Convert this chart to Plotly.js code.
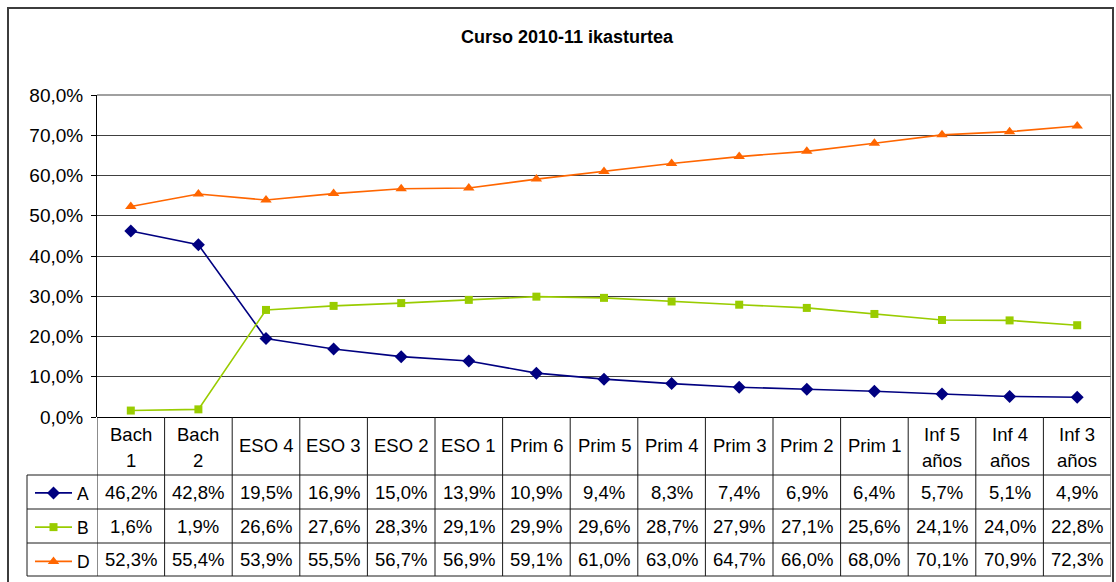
<!DOCTYPE html>
<html>
<head>
<meta charset="utf-8">
<script src="https://cdn.plot.ly/plotly-3.0.1.min.js"></script>
<style>html,body{margin:0;padding:0;background:#fff;}#chart{width:1116px;height:582px;}</style>
</head>
<body>
<div id="chart"></div>
<script>
// ---- data ----
const categories = ['Bach 1','Bach 2','ESO 4','ESO 3','ESO 2','ESO 1','Prim 6','Prim 5','Prim 4','Prim 3','Prim 2','Prim 1','Inf 5 años','Inf 4 años','Inf 3 años'];
const headerLabels = ['Bach<br>1','Bach<br>2','ESO 4','ESO 3','ESO 2','ESO 1','Prim 6','Prim 5','Prim 4','Prim 3','Prim 2','Prim 1','Inf 5<br>años','Inf 4<br>años','Inf 3<br>años'];
const seriesNames = ['A','B','D'];
const valuesA = [46.2,42.8,19.5,16.9,15.0,13.9,10.9,9.4,8.3,7.4,6.9,6.4,5.7,5.1,4.9];
const valuesB = [1.6,1.9,26.6,27.6,28.3,29.1,29.9,29.6,28.7,27.9,27.1,25.6,24.1,24.0,22.8];
const valuesD = [52.3,55.4,53.9,55.5,56.7,56.9,59.1,61.0,63.0,64.7,66.0,68.0,70.1,70.9,72.3];
const yTickValues = [0,10,20,30,40,50,60,70,80];
const titleText = 'Curso 2010-11 ikasturtea';

// ---- layout geometry (pixels) ----
const W = 1116, H = 582;
const L = 97, R = 1111, T = 95, B = 417;
const px = x => (x - L) / (R - L);
const py = y => (B - y) / (B - T);
const FONT = 'Liberation Sans, Arial, sans-serif';

const styles = [
  {color:'#000080', symbol:'diamond', size:10},
  {color:'#99CC00', symbol:'square', size:8},
  {color:'#FF6600', symbol:'triangle-up', size:10}
];
const allSeries = [valuesA, valuesB, valuesD];

const traces = allSeries.map((vals, k) => ({
  type:'scatter', mode:'lines+markers', name: seriesNames[k],
  x: categories, y: vals, legendgroup: 'g'+k,
  line:{color:styles[k].color, width:1.6},
  marker:{color:styles[k].color, symbol:styles[k].symbol, size:styles[k].size},
  hoverinfo:'skip'
}));

const fmt = v => v.toFixed(1).replace('.', ',') + '%';

const rowTops = [475, 509, 543];
const rowBottom = 576;
const lineCol = '#1a1a1a';

const shapes = [];
// outer chart border
shapes.push({type:'rect', xref:'paper', yref:'paper', x0:px(8), x1:px(1113), y0:py(8), y1:py(584),
  line:{color:'#3c3c3c', width:2}, fillcolor:'rgba(0,0,0,0)'});
// plot area top border
shapes.push({type:'line', xref:'paper', yref:'paper', x0:0, x1:1, y0:1, y1:1, line:{color:'#808080', width:1.5}});
// table horizontal lines
[475, 509, 543, 576].forEach(y => shapes.push({type:'line', xref:'paper', yref:'paper',
  x0:px(27), x1:1, y0:py(y), y1:py(y), line:{color:lineCol, width:1}}));
// table vertical lines (column boundaries)
for (let i = 0; i <= categories.length; i++) {
  const last = i === categories.length;
  shapes.push({type:'line', xref:'x', yref:'paper', x0:i-0.5, x1:i-0.5,
    y0: last ? 1 : 0, y1: py(rowBottom),
    line:{color: last ? '#808080' : lineCol, width: last ? 1.5 : 1}});
}
// legend column left line
shapes.push({type:'line', xref:'paper', yref:'paper', x0:px(27), x1:px(27), y0:py(475), y1:py(576),
  line:{color:lineCol, width:1}});

const annotations = [];
const cellFont = {family:FONT, size:18.5, color:'#000'};
categories.forEach((c, i) => {
  const parts = headerLabels[i].split('<br>');
  if (parts.length === 1) {
    annotations.push({xref:'x', yref:'paper', x:i, y:py(446), text:parts[0], showarrow:false,
      xanchor:'center', yanchor:'middle', font:cellFont});
  } else {
    [434, 460].forEach((yy, j) => annotations.push({xref:'x', yref:'paper', x:i, y:py(yy), text:parts[j],
      showarrow:false, xanchor:'center', yanchor:'middle', font:cellFont}));
  }
  allSeries.forEach((vals, k) => {
    const yc = (rowTops[k] + (k < 2 ? rowTops[k+1] : rowBottom)) / 2;
    annotations.push({xref:'x', yref:'paper', x:i, y:py(yc), text:fmt(vals[i]), showarrow:false,
      xanchor:'center', yanchor:'middle', font:cellFont});
  });
});

const layout = {
  width:W, height:H,
  margin:{l:L, r:W-R, t:T, b:H-B, pad:0, autoexpand:false},
  paper_bgcolor:'#fff', plot_bgcolor:'#fff',
  font:{family:FONT, color:'#000'},
  title:{text:'<b>'+titleText+'</b>', font:{family:FONT, size:18, color:'#000'},
    xref:'container', yref:'container', x:567/W, y:1-37/H, xanchor:'center', yanchor:'middle'},
  xaxis:{type:'category', range:[-0.5, categories.length-0.5], showticklabels:false, ticks:'',
    showgrid:false, zeroline:false, showline:false, fixedrange:true},
  yaxis:{range:[0,80], tickmode:'array', tickvals:yTickValues, ticktext:yTickValues.map(fmt),
    ticks:'outside', ticklen:5, tickcolor:'#000', tickwidth:1, ticklabelstandoff:4,
    showline:true, linecolor:'#000', linewidth:1,
    showgrid:true, gridcolor:'#404040', gridwidth:1,
    zeroline:true, zerolinecolor:'#000', zerolinewidth:1,
    tickfont:{family:FONT, size:19, color:'#000'}, fixedrange:true},
  showlegend:true,
  legend:{x:px(30), y:py(475), xanchor:'left', yanchor:'top', orientation:'v',
    traceorder:'grouped', tracegroupgap:8.5, itemwidth:37, bgcolor:'rgba(0,0,0,0)', borderwidth:0,
    font:{family:FONT, size:17.5, color:'#000'}},
  shapes:shapes,
  annotations:annotations
};

Plotly.newPlot('chart', traces, layout, {displayModeBar:false, staticPlot:true});
</script>
</body>
</html>
